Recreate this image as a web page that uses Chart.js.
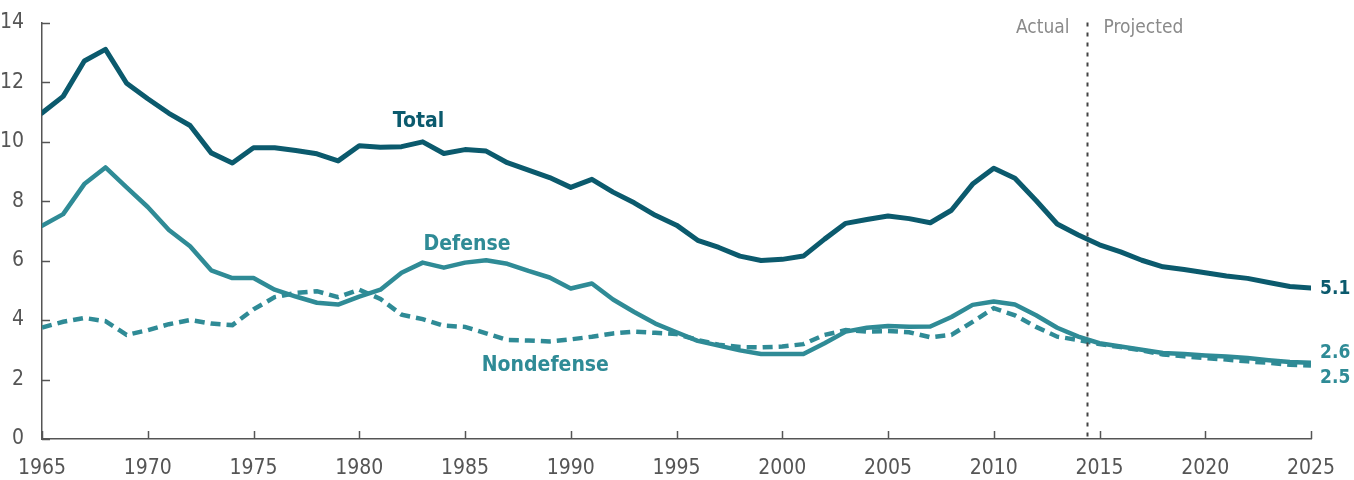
<!DOCTYPE html>
<html>
<head>
<meta charset="utf-8">
<script src="https://cdn.jsdelivr.net/npm/chart.js@4"></script>
<style>
  html, body { margin: 0; padding: 0; background: #fff; }
  #wrap { width: 1354px; height: 480px; }
</style>
</head>
<body>
<div id="wrap"><canvas id="spendChart"></canvas></div>
<script>
const years = [];
for (let y = 1965; y <= 2025; y++) years.push(y);

const total = [10.96, 11.52, 12.71, 13.1, 11.96, 11.44, 10.95, 10.54, 9.62, 9.28,
  9.79, 9.79, 9.70, 9.59, 9.35, 9.86, 9.81, 9.83, 9.99, 9.6,
  9.73, 9.68, 9.29, 9.04, 8.79, 8.46, 8.73, 8.30, 7.94, 7.52,
  7.19, 6.68, 6.44, 6.15, 6.0, 6.04, 6.15, 6.72, 7.25, 7.38,
  7.50, 7.41, 7.27, 7.69, 8.57, 9.10, 8.77, 8.02, 7.23, 6.86,
  6.53, 6.29, 6.01, 5.79, 5.70, 5.59, 5.48, 5.40, 5.26, 5.13, 5.08];

const defense = [7.17, 7.56, 8.57, 9.13, 8.46, 7.80, 7.03, 6.48, 5.67, 5.41,
  5.41, 5.02, 4.79, 4.58, 4.52, 4.79, 5.02, 5.59, 5.93, 5.76,
  5.93, 6.01, 5.89, 5.65, 5.43, 5.06, 5.23, 4.69, 4.27, 3.88,
  3.59, 3.30, 3.14, 2.98, 2.86, 2.86, 2.86, 3.22, 3.61, 3.74,
  3.80, 3.77, 3.78, 4.10, 4.51, 4.62, 4.52, 4.16, 3.74, 3.44,
  3.22, 3.11, 3.0, 2.89, 2.86, 2.81, 2.77, 2.72, 2.65, 2.59, 2.56];

const nondefense = [3.75, 3.94, 4.07, 3.96, 3.50, 3.66, 3.86, 4.0, 3.88, 3.83,
  4.36, 4.77, 4.91, 4.97, 4.77, 5.02, 4.71, 4.18, 4.03, 3.81,
  3.77, 3.55, 3.33, 3.31, 3.28, 3.35, 3.44, 3.55, 3.61, 3.57,
  3.53, 3.33, 3.17, 3.09, 3.08, 3.11, 3.19, 3.50, 3.66, 3.61,
  3.63, 3.59, 3.42, 3.50, 3.94, 4.40, 4.16, 3.77, 3.44, 3.33,
  3.19, 3.09, 2.98, 2.84, 2.78, 2.72, 2.67, 2.61, 2.56, 2.50, 2.47];

const endLabels = ["5.1", "2.6", "2.5"];
const splitYear = 2014.4;

const darkTeal = "#0b5a6d";
const teal = "#2f8b96";
const axisGrey = "#555555";
const FONT = "'DejaVu Sans Condensed', 'Liberation Sans Narrow', sans-serif";

function pts(arr) {
  return arr.map((v, i) => ({ x: years[i], y: v }));
}

const overlay = {
  id: "overlay",
  afterDatasetsDraw(chart) {
    const { ctx, chartArea, scales } = chart;
    const x = scales.x, y = scales.y;
    ctx.save();

    // tick marks, drawn inward
    ctx.strokeStyle = axisGrey;
    ctx.lineWidth = 1.5;
    x.ticks.forEach(t => {
      const px = Math.round(x.getPixelForValue(t.value)) + 0.5;
      ctx.beginPath();
      ctx.moveTo(px, chartArea.bottom);
      ctx.lineTo(px, chartArea.bottom - 8);
      ctx.stroke();
    });
    y.ticks.forEach(t => {
      const py = Math.round(y.getPixelForValue(t.value)) + 0.5;
      ctx.beginPath();
      ctx.moveTo(chartArea.left, py);
      ctx.lineTo(chartArea.left + 8, py);
      ctx.stroke();
    });

    // actual / projected divider
    const sx = Math.round(x.getPixelForValue(splitYear)) + 0.5;
    ctx.strokeStyle = "#444";
    ctx.lineWidth = 2;
    ctx.setLineDash([4, 6]);
    ctx.beginPath();
    ctx.moveTo(sx, chartArea.top);
    ctx.lineTo(sx, chartArea.bottom);
    ctx.stroke();
    ctx.setLineDash([]);

    ctx.font = "19px " + FONT;
    ctx.fillStyle = "#8a8a8a";
    ctx.textBaseline = "middle";
    ctx.textAlign = "right";
    ctx.fillText("Actual", sx - 18, 28);
    ctx.textAlign = "left";
    ctx.fillText("Projected", sx + 16, 28);

    // series labels
    ctx.font = "bold 21px " + FONT;
    ctx.textAlign = "center";
    ctx.fillStyle = darkTeal;
    ctx.fillText("Total", x.getPixelForValue(1982.8), y.getPixelForValue(10.68));
    ctx.fillStyle = teal;
    ctx.fillText("Defense", x.getPixelForValue(1985.1), y.getPixelForValue(6.55));
    ctx.fillText("Nondefense", x.getPixelForValue(1988.8), y.getPixelForValue(2.48));

    // end values
    ctx.font = "bold 19px " + FONT;
    ctx.textAlign = "left";
    const ex = x.getPixelForValue(2025) + 9;
    ctx.fillStyle = darkTeal;
    ctx.fillText(endLabels[0], ex, y.getPixelForValue(total[total.length - 1]) + 1);
    ctx.fillStyle = teal;
    ctx.fillText(endLabels[1], ex, y.getPixelForValue(2.88));
    ctx.fillText(endLabels[2], ex, y.getPixelForValue(2.06));

    ctx.restore();
  }
};

new Chart(document.getElementById("spendChart"), {
  type: "line",
  data: {
    datasets: [
      {
        label: "Total",
        data: pts(total),
        borderColor: darkTeal,
        borderWidth: 5,
        pointRadius: 0,
        borderCapStyle: "round",
        borderJoinStyle: "round",
        tension: 0,
      },
      {
        label: "Nondefense",
        data: pts(nondefense),
        borderColor: teal,
        borderWidth: 4.5,
        borderDash: [10, 6],
        pointRadius: 0,
        tension: 0,
      },
      {
        label: "Defense",
        data: pts(defense),
        borderColor: teal,
        borderWidth: 4.5,
        pointRadius: 0,
        borderCapStyle: "round",
        borderJoinStyle: "round",
        tension: 0,
      },
    ],
  },
  options: {
    responsive: true,
    maintainAspectRatio: false,
    animation: false,
    layout: { padding: { left: 0, right: 43, top: 16, bottom: 0 } },
    plugins: {
      legend: { display: false },
      tooltip: { enabled: false },
    },
    scales: {
      x: {
        type: "linear",
        min: 1965,
        max: 2025,
        grid: { display: false },
        border: { display: true, color: axisGrey, width: 1.5 },
        ticks: {
          stepSize: 5,
          autoSkip: false,
          maxRotation: 0,
          padding: 9,
          color: axisGrey,
          font: { family: FONT, size: 21 },
          callback: v => String(v),
        },
        afterFit(scale) { scale.height = 41; },
      },
      y: {
        min: 0,
        max: 14,
        grid: { display: false },
        border: { display: true, color: axisGrey, width: 1.5 },
        ticks: {
          stepSize: 2,
          padding: 10,
          color: axisGrey,
          font: { family: FONT, size: 21 },
        },
        afterFit(scale) { scale.width = 42; },
      },
    },
  },
  plugins: [overlay],
});
</script>
</body>
</html>
